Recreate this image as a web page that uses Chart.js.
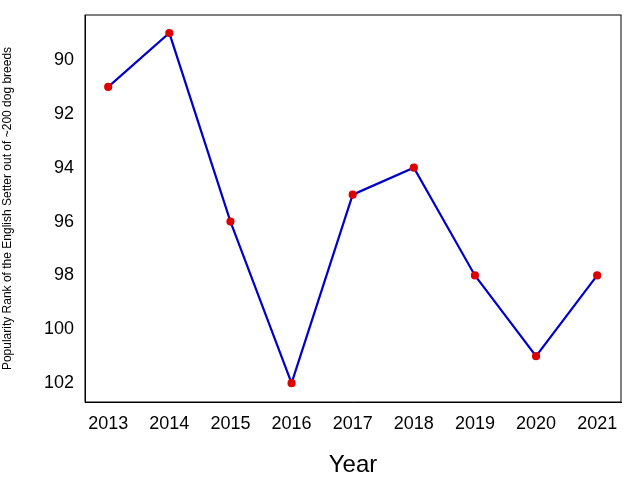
<!DOCTYPE html>
<html lang="en">
<head>
    <meta charset="UTF-8">
    <title>English Setter Rank</title>
    <style>
        body { margin: 0; background: #fff; }
        canvas { display: block; }
    </style>
</head>
<body>
    <canvas id="chart" width="640" height="480"></canvas>
    <script src="https://cdn.jsdelivr.net/npm/chart.js"></script>
    <script>
        const years = [2013, 2014, 2015, 2016, 2017, 2018, 2019, 2020, 2021];
        const ranks = [91, 89, 96, 102, 95, 94, 98, 101, 98];
        const yTicks = [90, 92, 94, 96, 98, 100, 102];

        new Chart(document.getElementById('chart'), {
            type: 'line',
            data: {
                datasets: [{
                    data: years.map((y, i) => ({ x: y, y: ranks[i] })),
                    borderColor: '#0000cc',
                    borderWidth: 2.2,
                    pointBackgroundColor: '#dd0000',
                    pointBorderColor: '#dd0000',
                    pointRadius: 3,
                    tension: 0
                }]
            },
            options: {
                responsive: false,
                animation: false,
                layout: { padding: { top: 15, right: 19 } },
                plugins: { legend: { display: false }, tooltip: { enabled: false } },
                scales: {
                    x: {
                        type: 'linear',
                        min: 2012.62,
                        max: 2021.39,
                        afterBuildTicks: s => { s.ticks = years.map(v => ({ value: v })); },
                        afterFit: s => { s.height = 78; },
                        grid: { display: false, drawTicks: true },
                        border: { color: '#000' },
                        ticks: { color: '#000', font: { size: 18 }, callback: v => String(v) },
                        title: { display: true, text: 'Year', color: '#000', font: { size: 24 }, padding: 0 }
                    },
                    y: {
                        reverse: true,
                        min: 88.33,
                        max: 102.7,
                        afterBuildTicks: s => { s.ticks = yTicks.map(v => ({ value: v })); },
                        afterFit: s => { s.width = 85; },
                        grid: { display: false },
                        border: { color: '#000' },
                        ticks: { color: '#000', font: { size: 18 } },
                        title: {
                            display: true,
                            text: 'Popularity Rank of the English Setter out of ~200 dog breeds',
                            color: '#000', font: { size: 12 }, padding: 0
                        }
                    }
                }
            },
            plugins: [{
                id: 'frame',
                afterDraw(c) {
                    const a = c.chartArea, x = c.ctx;
                    x.save();
                    x.strokeStyle = '#000';
                    x.lineWidth = 1;
                    x.strokeRect(a.left, a.top, a.right - a.left, a.bottom - a.top);
                    x.restore();
                }
            }]
        });
    </script>
</body>
</html>
